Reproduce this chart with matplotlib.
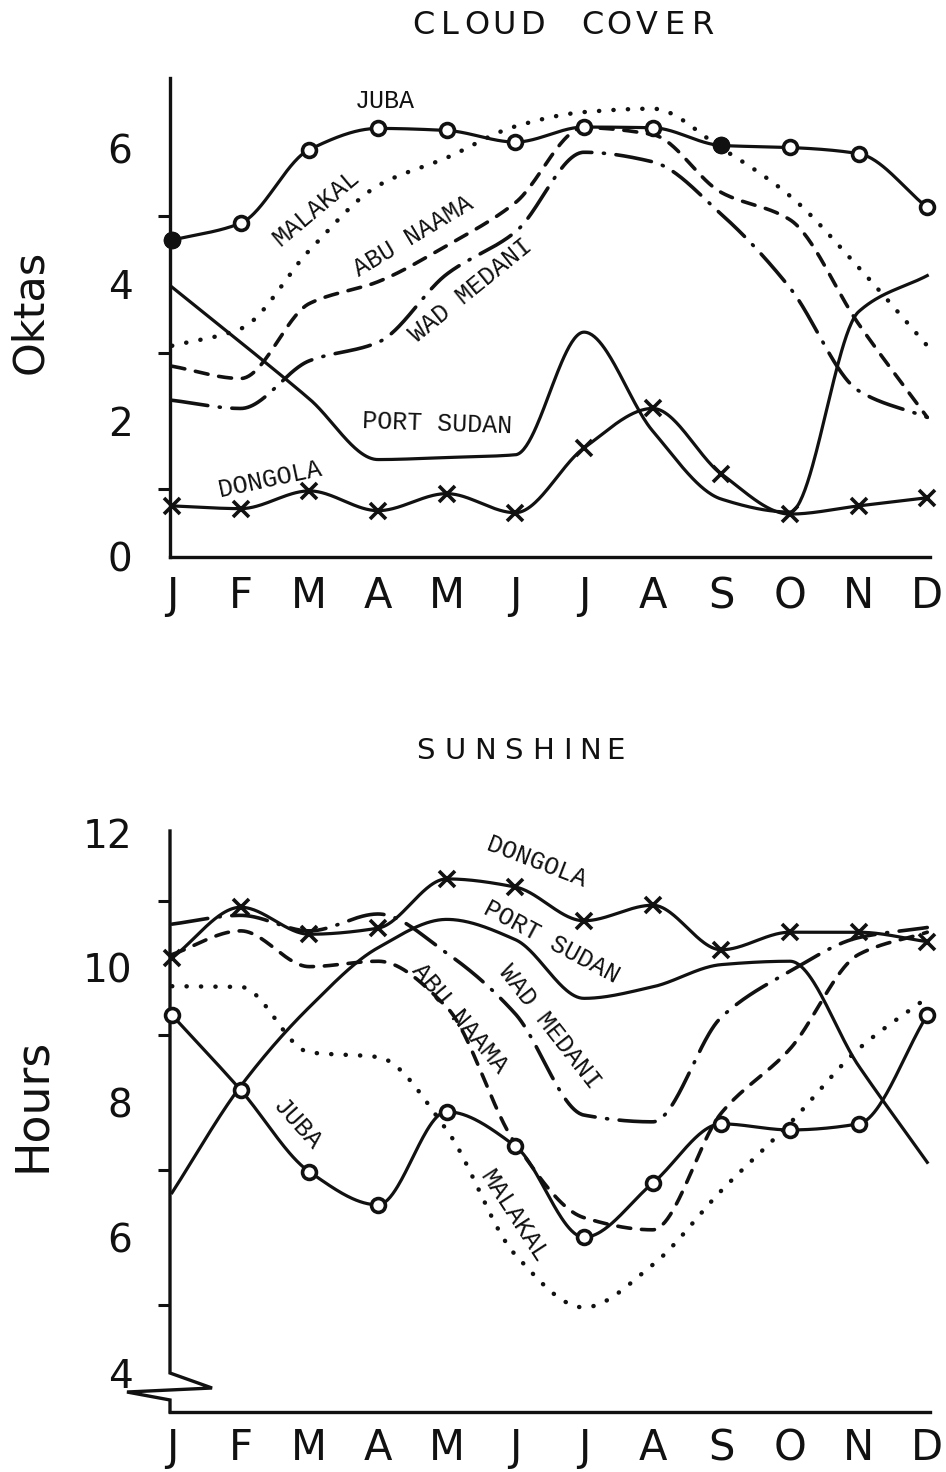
import numpy as np
import matplotlib
matplotlib.use("Agg")
import matplotlib.pyplot as plt

# ---------------- data ----------------
months = ['J', 'F', 'M', 'A', 'M', 'J', 'J', 'A', 'S', 'O', 'N', 'D']
month_idx = list(range(12))

# Cloud cover (oktas)
cc_juba      = [4.65, 4.90, 5.98, 6.29, 6.26, 6.09, 6.31, 6.30, 6.04, 6.01, 5.92, 5.13]
cc_malakal   = [3.10, 3.35, 4.50, 5.45, 5.86, 6.32, 6.53, 6.58, 6.00, 5.30, 4.25, 3.10]
cc_abunaama  = [2.80, 2.62, 3.72, 4.04, 4.57, 5.20, 6.30, 6.20, 5.35, 4.95, 3.42, 2.05]
cc_wadmedani = [2.30, 2.18, 2.88, 3.15, 4.15, 4.77, 5.94, 5.80, 5.03, 3.95, 2.44, 2.05]
cc_portsudan = [3.96, 3.15, 2.32, 1.43, 1.46, 1.50, 3.30, 1.85, 0.85, 0.66, 3.60, 4.13]
cc_dongola   = [0.75, 0.71, 0.97, 0.68, 0.93, 0.65, 1.60, 2.18, 1.22, 0.63, 0.75, 0.87]

# Sunshine (hours)
ss_juba      = [9.30, 8.19, 6.98, 6.49, 7.87, 7.36, 6.01, 6.81, 7.69, 7.60, 7.69, 9.30]
ss_dongola   = [10.15, 10.90, 10.50, 10.59, 11.32, 11.20, 10.70, 10.93, 10.27, 10.53, 10.53, 10.39]
ss_portsudan = [6.67, 8.25, 9.42, 10.30, 10.72, 10.42, 9.55, 9.72, 10.05, 10.10, 8.55, 7.12]
ss_wadmedani = [10.65, 10.78, 10.55, 10.80, 10.22, 9.32, 7.82, 7.72, 9.27, 9.95, 10.45, 10.60]
ss_abunaama  = [10.20, 10.55, 10.02, 10.10, 9.42, 7.40, 6.30, 6.12, 7.85, 8.80, 10.20, 10.53]
ss_malakal   = [9.73, 9.72, 8.75, 8.68, 7.60, 5.75, 4.97, 5.60, 6.70, 7.70, 8.80, 9.56]

cc_ticks = [0, 2, 4, 6]
ss_ticks = [4, 6, 8, 10, 12]


def pchip(x, y, xn):
    x = np.asarray(x, float)
    y = np.asarray(y, float)
    h = np.diff(x)
    d = np.diff(y) / h
    m = np.zeros_like(y)
    for k in range(1, len(x) - 1):
        if d[k - 1] * d[k] > 0:
            w1 = 2 * h[k] + h[k - 1]
            w2 = h[k] + 2 * h[k - 1]
            m[k] = (w1 + w2) / (w1 / d[k - 1] + w2 / d[k])
    m[0] = d[0]
    m[-1] = d[-1]
    idx = np.clip(np.searchsorted(x, xn) - 1, 0, len(x) - 2)
    t = (xn - x[idx]) / h[idx]
    h00 = 2 * t**3 - 3 * t**2 + 1
    h10 = t**3 - 2 * t**2 + t
    h01 = -2 * t**3 + 3 * t**2
    h11 = t**3 - t**2
    return (h00 * y[idx] + h10 * h[idx] * m[idx] +
            h01 * y[idx + 1] + h11 * h[idx] * m[idx + 1])


W, H = 946, 1472
fig = plt.figure(figsize=(W / 100, H / 100), dpi=100)
fig.patch.set_facecolor('white')


def fx(px):
    return px / W


def fy(py):
    return 1 - py / H


INK = '#111111'
LW = 2.3
xs = np.linspace(0, 11, 600)
mono = 'Liberation Mono'
sans = 'DejaVu Sans'

styles = {
    'solid': dict(ls='-', lw=LW),
    'dot': dict(ls=(0, (0.05, 3.2)), lw=3.2, dash_capstyle='round'),
    'dash': dict(ls=(0, (3.6, 3.0)), lw=2.6, dash_capstyle='round'),
    'dashdot': dict(ls=(0, (10, 3.2, 0.3, 3.2)), lw=2.6, dash_capstyle='round'),
}


def curve(ax, vals, style, marker=None, filled=()):
    ax.plot(xs, pchip(month_idx, vals, xs), color=INK, zorder=3, **styles[style])
    if marker == 'o':
        ax.plot(month_idx, vals, 'o', ms=10, mfc='white', mec=INK, mew=2.6, zorder=5,
                clip_on=False)
        for k in filled:
            ax.plot([month_idx[k]], [vals[k]], 'o', ms=10, mfc=INK, mec=INK, mew=2.6,
                    zorder=6, clip_on=False)
    elif marker == 'x':
        ax.plot(month_idx, vals, 'x', ms=11, mec=INK, mew=2.6, zorder=5, clip_on=False)


def style_axes(ax, ylim, majors, minors, xpad):
    ax.set_xlim(-0.03, 11.04)
    ax.set_ylim(*ylim)
    for s in ['top', 'right']:
        ax.spines[s].set_visible(False)
    ax.spines['bottom'].set_linewidth(2.4)
    ax.spines['left'].set_linewidth(2.4)
    ax.spines['bottom'].set_color(INK)
    ax.spines['left'].set_color(INK)
    ax.set_xticks(month_idx)
    ax.set_xticklabels(months, fontsize=30, family=sans, color=INK)
    ax.tick_params(axis='x', length=0, pad=xpad)
    ax.set_yticks(majors)
    ax.set_yticklabels([str(v) for v in majors], fontsize=28, family=sans, color=INK)
    ax.tick_params(axis='y', which='major', length=0, pad=27)
    ax.set_yticks(minors, minor=True)
    ax.tick_params(axis='y', which='minor', length=9, width=2.2, direction='out',
                   color=INK)
    ax.set_facecolor('none')


# ---------------- CLOUD COVER ----------------
ax1 = fig.add_axes([fx(170), fy(557), 760 / W, (557 - 78) / H])
style_axes(ax1, (0, 7.03), cc_ticks, [1, 2, 3, 4, 5, 6], 13)
curve(ax1, cc_malakal, 'dot')
curve(ax1, cc_abunaama, 'dash')
curve(ax1, cc_wadmedani, 'dashdot')
curve(ax1, cc_portsudan, 'solid')
curve(ax1, cc_dongola, 'solid', marker='x')
curve(ax1, cc_juba, 'solid', marker='o', filled=(0, 8))

# ---------------- SUNSHINE ----------------
ax2 = fig.add_axes([fx(170), fy(1412), 760 / W, 581 / H])
style_axes(ax2, (3.42, 12.03), ss_ticks, [5, 6, 7, 8, 9, 10, 11, 12], 11)
ax2.spines['left'].set_visible(False)
# broken y axis (decoration, axes fraction coords)
brk_x = [0, 0, 0.0553, -0.0566, 0, 0]
brk_y = [1, 0.0671, 0.0413, 0.0344, 0.0207, 0]
ax2.plot(brk_x, brk_y, color=INK, lw=2.4, transform=ax2.transAxes, clip_on=False,
         solid_joinstyle='miter', zorder=4)
curve(ax2, ss_malakal, 'dot')
curve(ax2, ss_abunaama, 'dash')
curve(ax2, ss_wadmedani, 'dashdot')
curve(ax2, ss_portsudan, 'solid')
curve(ax2, ss_dongola, 'solid', marker='x')
curve(ax2, ss_juba, 'solid', marker='o')

# ---------------- titles & axis names ----------------
title1 = [('C', 423), ('L', 450), ('O', 477), ('U', 504), ('D', 533),
          ('C', 592), ('O', 619), ('V', 647), ('E', 675), ('R', 703)]
for ch, px in title1:
    fig.text(fx(px), fy(25), ch, ha='center', va='center', fontsize=23,
             family=sans, color=INK)
title2 = [('S', 425), ('U', 455), ('N', 485), ('S', 513), ('H', 543),
          ('I', 567), ('N', 590), ('E', 615)]
for ch, px in title2:
    fig.text(fx(px), fy(751), ch, ha='center', va='center', fontsize=21,
             family=sans, color=INK)

fig.text(fx(30), fy(312), 'Oktas', rotation=90, ha='center', va='center',
         fontsize=31, family=sans, color=INK)
fig.text(fx(33), fy(1105), 'Hours', rotation=90, ha='center', va='center',
         fontsize=33, family=sans, color=INK)

# ---------------- station labels ----------------
lab = dict(family=mono, fontsize=18, color=INK, ha='center', va='center',
           rotation_mode='anchor')
fig.text(fx(385), fy(101), 'JUBA', **lab)
fig.text(fx(316), fy(208), 'MALAKAL', rotation=40, **lab)
fig.text(fx(413), fy(236), 'ABU NAAMA', rotation=31, **lab)
fig.text(fx(471), fy(290), 'WAD MEDANI', rotation=39, **lab)
fig.text(fx(437), fy(424), 'PORT SUDAN', rotation=-2, **lab)
fig.text(fx(270), fy(479), 'DONGOLA', rotation=12, **lab)

fig.text(fx(537), fy(862), 'DONGOLA', rotation=-21, **lab)
fig.text(fx(552), fy(942), 'PORT SUDAN', rotation=-28, **lab)
fig.text(fx(550), fy(1027), 'WAD MEDANI', rotation=-52, **lab)
fig.text(fx(460), fy(1018), 'ABU NAAMA', rotation=-50, **lab)
fig.text(fx(297), fy(1125), 'JUBA', rotation=-48, **lab)
fig.text(fx(514), fy(1216), 'MALAKAL', rotation=-57, **lab)

fig.savefig('out.png', dpi=100, facecolor='white')
